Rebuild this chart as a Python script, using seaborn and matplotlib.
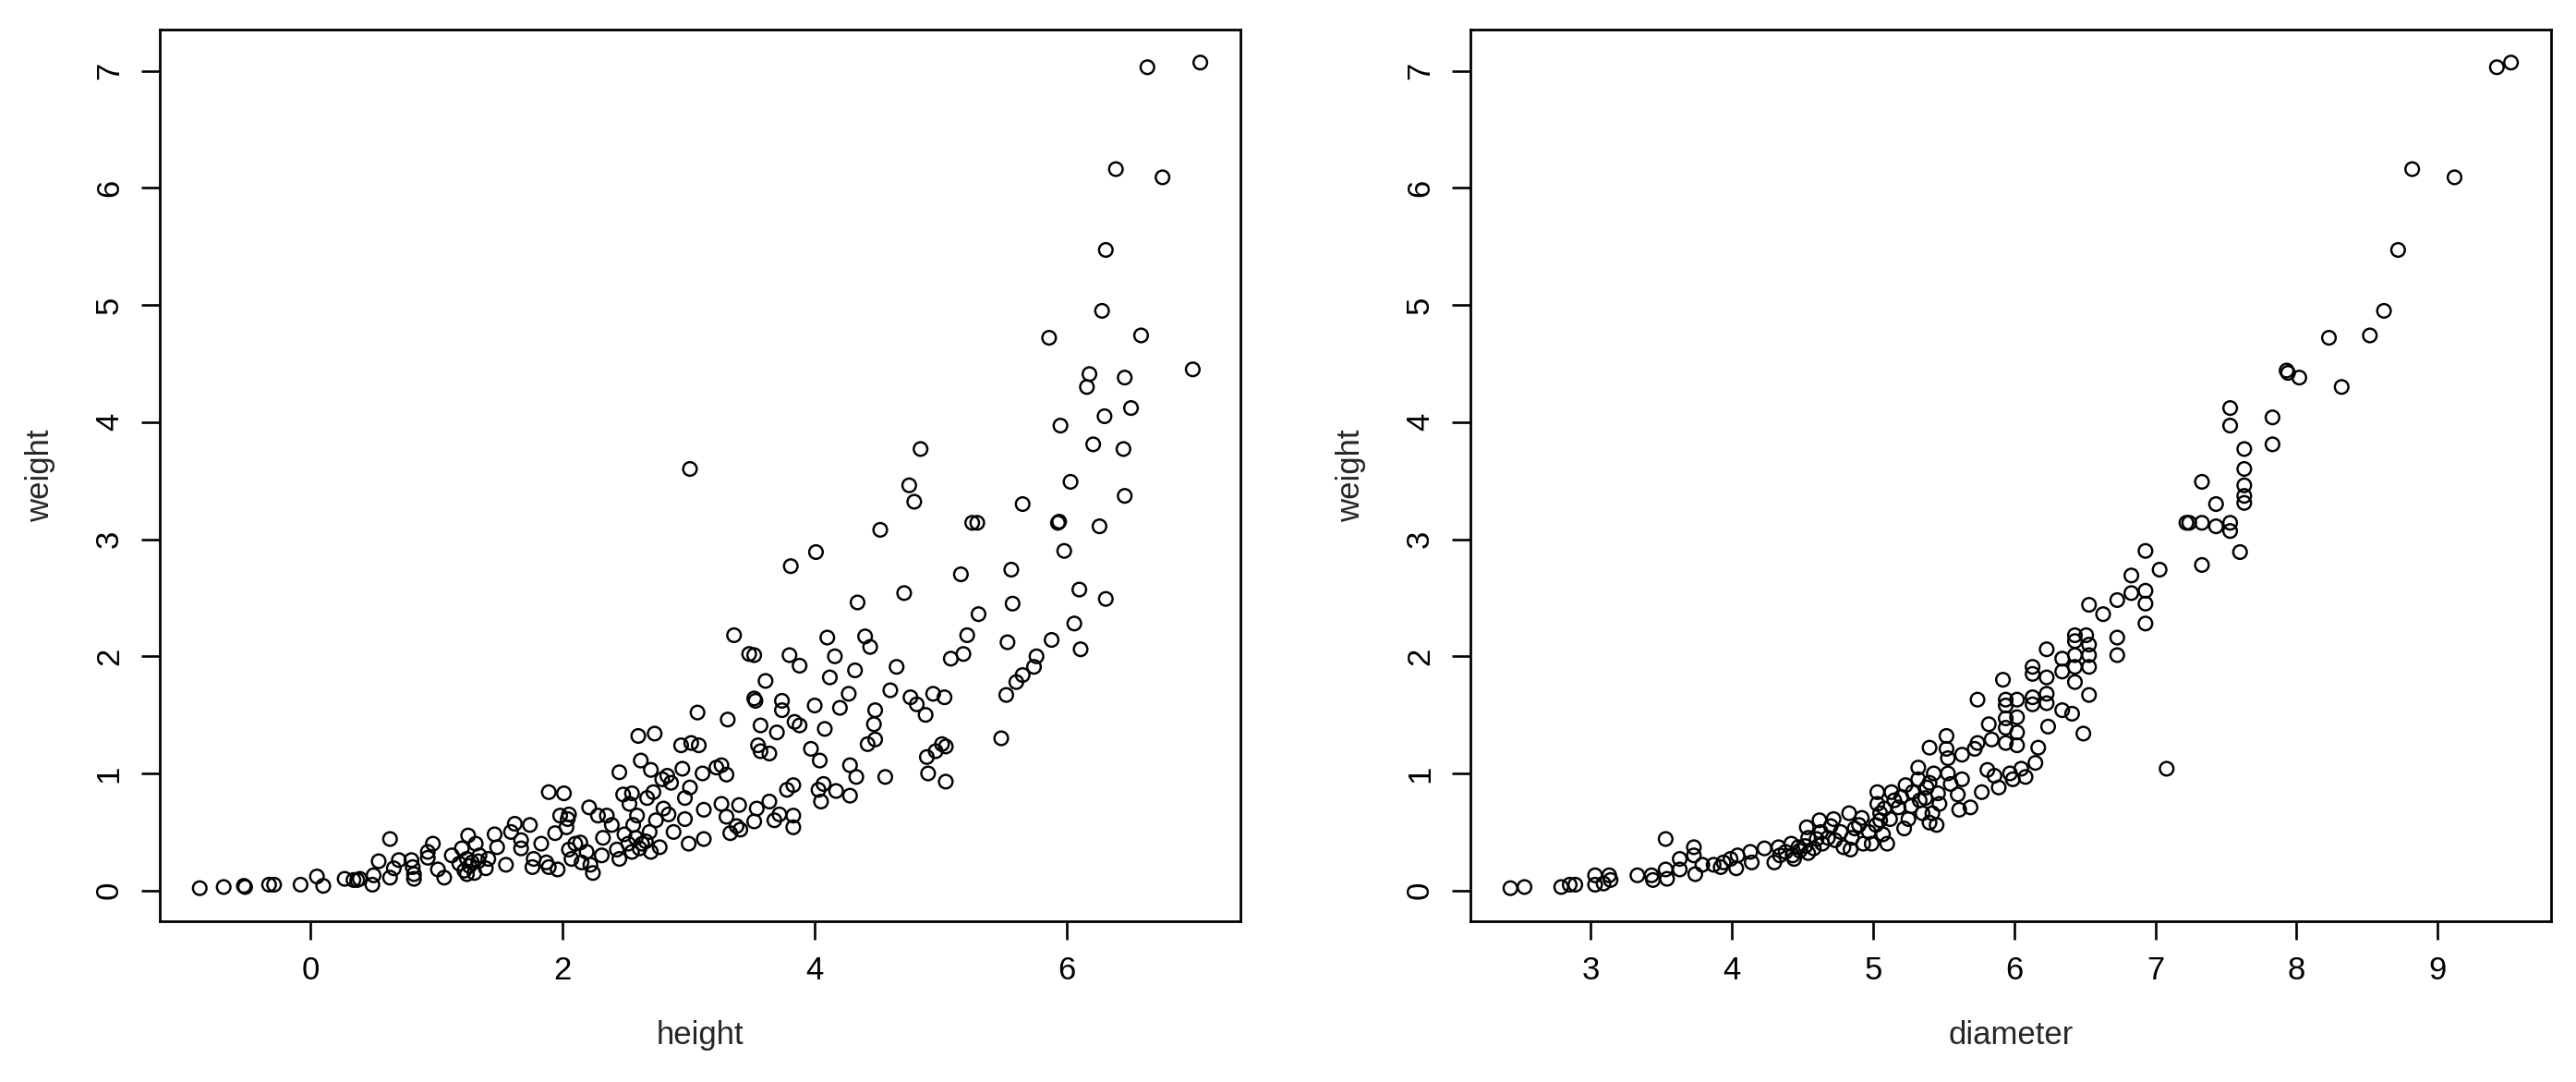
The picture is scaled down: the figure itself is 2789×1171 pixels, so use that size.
import pandas as pd
import seaborn as sns
import matplotlib.pyplot as plt

# left panel: height vs weight
height = [
    -0.88, -0.69, -0.53, -0.52, -0.33, -0.29, -0.08, 0.05, 0.10, 0.27,
    0.34, 0.37, 0.39, 0.49, 0.50, 0.54, 0.63, 0.63, 0.66, 0.70,
    0.80, 0.81, 0.82, 0.82, 0.93, 0.93, 0.97, 1.01, 1.06, 1.12,
    1.18, 1.20, 1.24, 1.24, 1.25, 1.28, 1.31, 1.34, 1.39, 1.41,
    1.46, 1.48, 1.55, 1.59, 1.62, 1.67, 1.67, 1.74, 1.76, 1.77,
    1.83, 1.87, 1.89, 1.89, 1.94, 1.96, 1.98, 2.01, 2.03, 2.04,
    2.05, 2.05, 2.07, 2.10, 2.14, 2.15, 2.19, 2.21, 2.22, 2.24,
    2.28, 2.31, 2.32, 2.35, 2.39, 2.43, 2.45, 2.45, 2.48, 2.49,
    2.52, 2.53, 2.55, 2.56, 2.59, 2.60, 2.62, 2.63, 2.67, 2.69,
    2.70, 2.72, 2.73, 2.74, 2.77, 2.79, 2.80, 2.83, 2.84, 2.86,
    2.88, 2.94, 2.95, 2.97, 2.97, 3.00, 3.01, 3.02, 3.07, 3.08,
    3.11, 3.12, 3.12, 1.22, 1.26, 1.30, 1.33, 2.55, 2.58, 2.61,
    2.66, 2.70, 3.01, 3.36, 3.48, 3.52, 3.61, 3.52, 3.53, 3.31,
    3.57, 3.70, 3.74, 3.74, 3.80, 3.88, 3.84, 3.88, 3.55, 3.57,
    3.64, 3.97, 4.04, 4.00, 4.10, 4.16, 4.12, 4.08, 4.20, 4.27,
    4.32, 4.34, 4.01, 3.81, 4.40, 4.44, 4.48, 4.47, 4.48, 4.42,
    4.28, 4.33, 4.28, 4.07, 4.03, 4.05, 4.17, 3.83, 3.78, 3.26,
    3.40, 3.54, 3.64, 3.72, 3.83, 3.33, 3.38, 3.52, 3.68, 3.83,
    3.41, 3.30, 3.22, 3.26, 3.30, 4.52, 4.75, 4.79, 4.84, 4.71,
    4.65, 4.60, 4.76, 4.81, 4.88, 4.94, 5.03, 4.56, 4.90, 5.04,
    4.89, 4.96, 5.01, 5.04, 5.08, 5.18, 5.21, 5.30, 5.16, 5.25,
    5.29, 5.48, 5.52, 5.60, 5.65, 5.74, 5.76, 5.88, 5.53, 5.57,
    5.56, 5.65, 5.93, 5.94, 5.98, 6.03, 5.95, 6.06, 6.11, 6.10,
    6.31, 6.26, 6.46, 6.21, 6.45, 6.30, 6.51, 6.16, 6.18, 6.46,
    7.00, 6.64, 7.06, 6.39, 6.76, 6.31, 6.28, 5.86, 6.59,
]
weight_h = [
    0.02, 0.03, 0.04, 0.03, 0.05, 0.05, 0.05, 0.12, 0.04, 0.10,
    0.09, 0.09, 0.10, 0.05, 0.13, 0.25, 0.44, 0.11, 0.19, 0.26,
    0.26, 0.20, 0.14, 0.10, 0.28, 0.33, 0.40, 0.18, 0.11, 0.30,
    0.23, 0.36, 0.27, 0.14, 0.47, 0.24, 0.40, 0.30, 0.19, 0.27,
    0.48, 0.37, 0.22, 0.50, 0.57, 0.43, 0.36, 0.56, 0.20, 0.27,
    0.40, 0.24, 0.20, 0.84, 0.49, 0.18, 0.64, 0.83, 0.54, 0.61,
    0.65, 0.35, 0.27, 0.40, 0.41, 0.24, 0.33, 0.71, 0.22, 0.15,
    0.64, 0.30, 0.45, 0.64, 0.56, 0.35, 1.01, 0.27, 0.82, 0.48,
    0.40, 0.74, 0.83, 0.56, 0.64, 1.32, 1.11, 0.40, 0.79, 0.50,
    1.03, 0.84, 1.34, 0.60, 0.37, 0.95, 0.70, 0.98, 0.65, 0.92,
    0.50, 1.24, 1.04, 0.79, 0.61, 0.40, 0.88, 1.26, 1.52, 1.24,
    1.00, 0.69, 0.44, 0.17, 0.21, 0.15, 0.25, 0.33, 0.45, 0.36,
    0.42, 0.33, 3.60, 2.18, 2.02, 2.01, 1.79, 1.64, 1.62, 1.46,
    1.41, 1.35, 1.62, 1.54, 2.01, 1.92, 1.44, 1.41, 1.24, 1.19,
    1.17, 1.21, 1.11, 1.58, 2.16, 2.00, 1.82, 1.38, 1.56, 1.68,
    1.88, 2.46, 2.89, 2.77, 2.17, 2.08, 1.54, 1.42, 1.29, 1.25,
    1.07, 0.97, 0.81, 0.91, 0.86, 0.76, 0.85, 0.90, 0.86, 0.74,
    0.73, 0.70, 0.76, 0.65, 0.64, 0.49, 0.55, 0.59, 0.60, 0.54,
    0.52, 0.63, 1.05, 1.07, 0.99, 3.08, 3.46, 3.32, 3.77, 2.54,
    1.91, 1.71, 1.65, 1.59, 1.50, 1.68, 1.65, 0.97, 1.00, 0.93,
    1.14, 1.19, 1.25, 1.23, 1.98, 2.02, 2.18, 2.36, 2.70, 3.14,
    3.14, 1.30, 1.67, 1.78, 1.84, 1.91, 2.00, 2.14, 2.12, 2.45,
    2.74, 3.30, 3.14, 3.15, 2.90, 3.49, 3.97, 2.28, 2.06, 2.57,
    2.49, 3.11, 3.37, 3.81, 3.77, 4.05, 4.12, 4.30, 4.41, 4.38,
    4.45, 7.03, 7.07, 6.16, 6.09, 5.47, 4.95, 4.72, 4.74,
]

# right panel: diameter vs weight
diameter = [
    2.43, 2.53, 2.79, 2.85, 2.89, 3.03, 3.03, 3.09, 3.14, 3.13,
    3.33, 3.43, 3.44, 3.53, 3.54, 3.53, 3.63, 3.63, 3.73, 3.73,
    3.74, 3.79, 3.87, 3.92, 3.94, 3.99, 4.03, 4.04, 4.13, 4.14,
    4.23, 4.30, 4.33, 4.34, 4.42, 4.43, 4.44, 4.47, 4.53, 4.54,
    4.54, 4.62, 4.63, 4.64, 4.72, 4.73, 4.77, 4.79, 4.83, 4.84,
    4.87, 4.92, 4.93, 4.97, 4.99, 5.02, 5.03, 5.03, 5.05, 5.07,
    5.10, 5.12, 5.13, 5.15, 5.18, 5.22, 5.23, 5.25, 5.28, 5.32,
    5.32, 5.33, 5.35, 5.37, 5.40, 5.40, 5.40, 5.42, 5.43, 5.45,
    5.47, 5.52, 5.52, 5.53, 5.53, 5.55, 5.60, 5.61, 5.63, 5.63,
    5.69, 5.72, 5.74, 5.74, 5.77, 5.81, 5.82, 5.84, 5.86, 5.89,
    5.92, 5.94, 5.94, 5.94, 5.94, 5.94, 5.97, 5.99, 6.02, 6.02,
    6.02, 6.02, 6.05, 7.93, 7.94, 8.02, 8.32, 7.53, 7.53, 7.83,
    7.83, 7.63, 7.63, 7.63, 7.63, 7.63, 7.33, 7.43, 7.22, 7.24,
    7.33, 7.43, 7.53, 7.53, 7.60, 7.33, 6.93, 7.03, 6.83, 6.83,
    6.93, 6.93, 6.73, 6.53, 6.63, 6.93, 6.73, 6.73, 6.43, 6.43,
    6.43, 6.43, 6.43, 6.51, 6.53, 6.53, 6.53, 6.53, 6.23, 6.34,
    6.34, 6.23, 6.13, 6.13, 6.23, 6.23, 6.13, 6.13, 6.34, 6.41,
    6.24, 6.49, 6.17, 6.15, 7.08, 6.08, 9.42, 9.52, 8.82, 9.12,
    8.72, 8.62, 8.23, 8.52, 4.38, 4.48, 4.52, 4.58, 4.60, 4.68,
    4.70, 4.85, 4.90, 5.05, 5.08, 5.20, 5.27, 5.38, 5.46,
]
weight_d = [
    0.02, 0.03, 0.03, 0.05, 0.05, 0.13, 0.05, 0.06, 0.09, 0.13,
    0.13, 0.13, 0.09, 0.18, 0.10, 0.44, 0.27, 0.18, 0.37, 0.30,
    0.14, 0.22, 0.22, 0.20, 0.24, 0.27, 0.19, 0.30, 0.33, 0.24,
    0.36, 0.24, 0.37, 0.30, 0.40, 0.30, 0.27, 0.37, 0.54, 0.45,
    0.32, 0.60, 0.50, 0.40, 0.61, 0.43, 0.50, 0.37, 0.66, 0.35,
    0.53, 0.62, 0.40, 0.50, 0.40, 0.56, 0.84, 0.74, 0.66, 0.48,
    0.40, 0.61, 0.84, 0.77, 0.71, 0.53, 0.90, 0.61, 0.84, 1.05,
    0.95, 0.77, 0.66, 0.79, 0.92, 0.58, 1.22, 0.66, 1.00, 0.56,
    0.74, 1.32, 1.21, 1.13, 1.00, 0.91, 0.82, 0.69, 1.16, 0.95,
    0.71, 1.21, 1.26, 1.63, 0.84, 1.03, 1.42, 1.29, 0.98, 0.88,
    1.80, 1.63, 1.58, 1.47, 1.39, 1.26, 1.00, 0.95, 1.63, 1.48,
    1.35, 1.24, 1.04, 4.44, 4.42, 4.38, 4.30, 4.12, 3.97, 4.04,
    3.81, 3.77, 3.60, 3.46, 3.37, 3.31, 3.49, 3.30, 3.14, 3.14,
    3.14, 3.11, 3.14, 3.07, 2.89, 2.78, 2.90, 2.74, 2.69, 2.54,
    2.56, 2.45, 2.48, 2.44, 2.36, 2.28, 2.16, 2.01, 2.18, 2.13,
    2.01, 1.91, 1.78, 2.18, 2.10, 2.01, 1.91, 1.67, 2.06, 1.98,
    1.87, 1.82, 1.91, 1.85, 1.68, 1.60, 1.65, 1.59, 1.54, 1.51,
    1.40, 1.34, 1.22, 1.09, 1.04, 0.97, 7.03, 7.07, 6.16, 6.09,
    5.47, 4.95, 4.72, 4.74, 0.33, 0.34, 0.38, 0.36, 0.44, 0.45,
    0.55, 0.45, 0.56, 0.60, 0.70, 0.80, 0.72, 0.88, 0.83,
]

x_ticks_h = [0, 2, 4, 6]
x_ticks_d = [3, 4, 5, 6, 7, 8, 9]
y_ticks = [0, 1, 2, 3, 4, 5, 6, 7]

df_h = pd.DataFrame({"height": height, "weight": weight_h})
df_d = pd.DataFrame({"diameter": diameter, "weight": weight_d})

sns.set_style("ticks")
plt.rcParams["font.family"] = ["Liberation Sans", "DejaVu Sans"]
plt.rcParams["font.size"] = 25


def r_range(v):
    # R pads the data range by 4% on each side
    lo, hi = min(v), max(v)
    pad = 0.04 * (hi - lo)
    return lo - pad, hi + pad


fig = plt.figure(figsize=(27.89, 11.71), dpi=100)
ax1 = fig.add_axes([0.0620, 0.1486, 0.4195, 0.8241])
ax2 = fig.add_axes([0.5708, 0.1486, 0.4195, 0.8241])

for ax, df, xcol, xticks in [(ax1, df_h, "height", x_ticks_h),
                             (ax2, df_d, "diameter", x_ticks_d)]:
    sns.scatterplot(data=df, x=xcol, y="weight", ax=ax, marker="o", s=112,
                    facecolor="none", edgecolor="black", linewidth=1.75)
    ax.set_xlim(r_range(df[xcol]))
    ax.set_ylim(r_range(df["weight"]))
    ax.set_xticks(xticks)
    ax.set_yticks(y_ticks)
    ax.tick_params(length=14.4, width=1.9, pad=12, labelsize=25, colors="black")
    ax.tick_params(axis="y", labelrotation=90, pad=13)
    plt.setp(ax.get_yticklabels(), va="center")
    for sp in ax.spines.values():
        sp.set_linewidth(2)
        sp.set_color("black")
    ax.xaxis.set_label_coords(0.5, -0.111)
    ax.yaxis.set_label_coords(-0.0966, 0.5)

fig.savefig("out.png", dpi=100)
